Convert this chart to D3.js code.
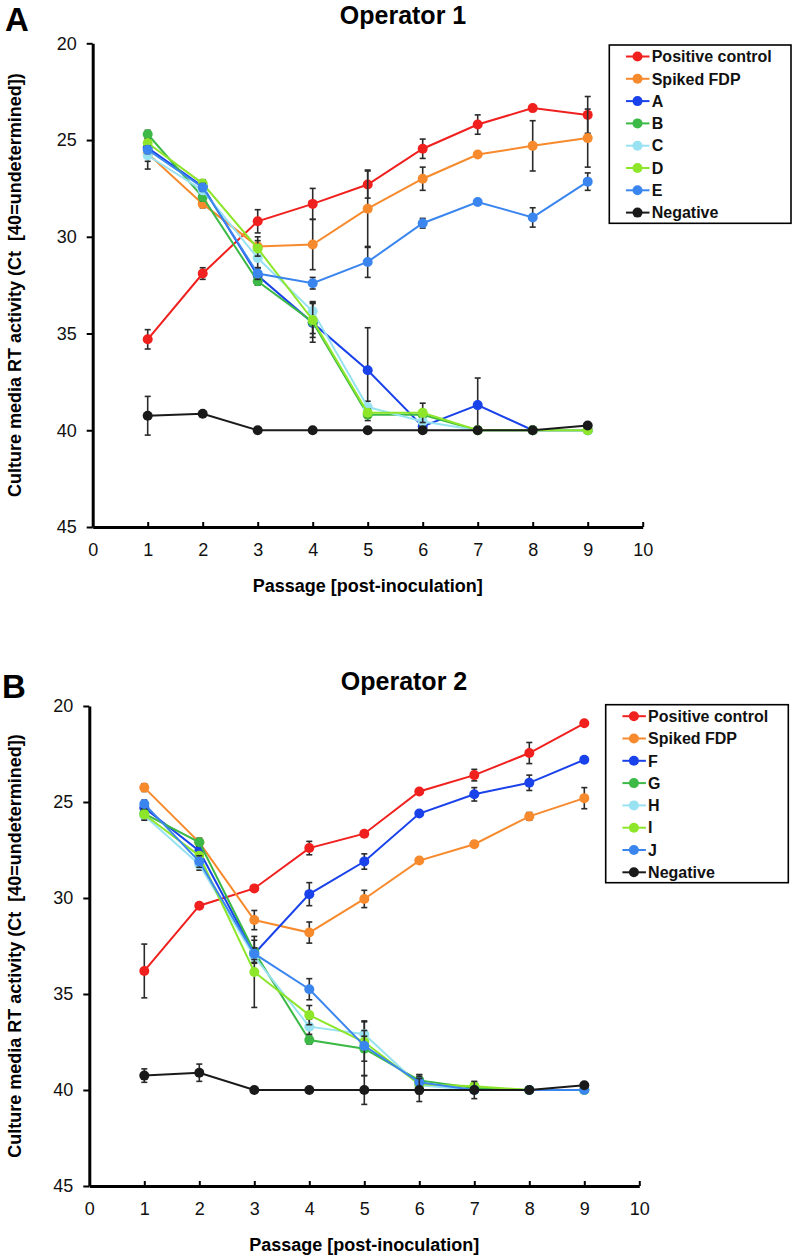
<!DOCTYPE html>
<html>
<head>
<meta charset="utf-8">
<script src="https://cdn.jsdelivr.net/npm/d3@7"></script>
<style>
  html, body { margin: 0; padding: 0; background: #ffffff; }
  svg { display: block; font-family: Arial, "Liberation Sans", sans-serif; }
</style>
</head>
<body>
<svg id="chart" width="792" height="1257"></svg>
<script>
// ---------- data ----------
const passages = [1, 2, 3, 4, 5, 6, 7, 8, 9];
const xTicks = [0, 1, 2, 3, 4, 5, 6, 7, 8, 9, 10];
const yTicks = [20, 25, 30, 35, 40, 45];

const seriesNamesA = ["Positive control", "Spiked FDP", "A", "B", "C", "D", "E", "Negative"];
const seriesNamesB = ["Positive control", "Spiked FDP", "F", "G", "H", "I", "J", "Negative"];
const seriesColors = ["#f0201e", "#f78a2d", "#1a42ea", "#3cb946", "#98e2f2", "#8de62a", "#3b86ee", "#1a1a1a"];

// Operator 1
const posA    = [35.3, 31.9, 29.2, 28.3, 27.3, 25.45, 24.2, 23.35, 23.7];
const posAErr = [0.5, 0.3, 0.6, 0.8, 0.7, 0.5, 0.5, 0.1, 0.95];
const spkA    = [25.7, 28.3, 30.5, 30.4, 28.55, 27.0, 25.75, 25.3, 24.9];
const spkAErr = [0.8, 0.2, 0.5, 1.3, 2.0, 0.6, 0.1, 1.3, 1.5];
const aA      = [25.4, 27.4, 32.0, 34.45, 36.9, 39.8, 38.7, 40, 40];
const aAErr   = [0.3, 0.2, 0.4, 1.0, 2.2, 0.3, 1.4, 0, 0];
const bA      = [24.7, 27.95, 32.3, 34.4, 39.2, 39.2, 40, 40, 40];
const bAErr   = [0.2, 0.2, 0.2, 0.6, 0.3, 0.2, 0, 0, 0];
const cA      = [25.8, 27.6, 31.1, 33.85, 38.8, 39.55, 40, 40, 40];
const cAErr   = [0.3, 0.2, 0.5, 0.5, 0.3, 0.2, 0, 0, 0];
const dA      = [25.15, 27.25, 30.6, 34.3, 39.1, 39.1, 40, 40, 40];
const dAErr   = [0.2, 0.2, 0.4, 0.9, 0.2, 0.5, 0, 0, 0];
const eA      = [25.5, 27.45, 31.9, 32.4, 31.3, 29.3, 28.2, 29.0, 27.15];
const eAErr   = [0.2, 0.2, 0.3, 0.3, 0.8, 0.25, 0.1, 0.5, 0.45];
const negA    = [39.25, 39.15, 40, 40, 40, 40, 40, 40, 39.75];
const negAErr = [1.0, 0.1, 0, 0, 0, 0, 0, 0, 0.1];

// Operator 2
const posB    = [33.8, 30.4, 29.5, 27.4, 26.65, 24.45, 23.6, 22.45, 20.9];
const posBErr = [1.4, 0.1, 0.1, 0.35, 0.1, 0.1, 0.3, 0.55, 0.1];
const spkB    = [24.25, 27.1, 31.15, 31.8, 30.05, 28.05, 27.2, 25.75, 24.8];
const spkBErr = [0.2, 0.2, 0.5, 0.55, 0.45, 0.1, 0.15, 0.2, 0.55];
const fB      = [25.3, 27.55, 32.9, 29.8, 28.1, 25.6, 24.6, 24.0, 22.8];
const fBErr   = [0.3, 0.2, 0.3, 0.6, 0.4, 0.1, 0.35, 0.4, 0.1];
const gB      = [25.6, 27.1, 32.8, 37.4, 37.85, 39.5, 39.9, 40, 40];
const gBErr   = [0.2, 0.2, 0.6, 0.2, 1.4, 0.3, 0.1, 0, 0];
const hB      = [25.7, 28.25, 33.05, 36.7, 37.1, 39.75, 40, 40, 40];
const hBErr   = [0.2, 0.3, 0.3, 0.4, 0.7, 0.2, 0, 0, 0];
const iB      = [25.65, 27.8, 33.85, 36.1, 37.5, 39.7, 39.8, 40, 40];
const iBErr   = [0.3, 0.2, 1.85, 0.5, 0.3, 0.5, 0.2, 0, 0];
const jB      = [25.1, 28.1, 32.9, 34.75, 37.7, 39.6, 40, 40, 40];
const jBErr   = [0.2, 0.3, 0.3, 0.55, 0.8, 0.3, 0, 0, 0];
const negB    = [39.25, 39.1, 40, 40, 40, 40, 40, 40, 39.75];
const negBErr = [0.35, 0.45, 0, 0, 0.75, 0.6, 0.45, 0, 0.1];

const yTitle = "Culture media RT activity (Ct  [40=undetermined])";
const xTitle = "Passage [post-inoculation]";

// ---------- drawing ----------
const svg = d3.select("#chart");

function drawPanel(cfg) {
  const g = svg.append("g");
  const x = d3.scaleLinear().domain([0, 10]).range([cfg.x0, cfg.x1]);
  const y = d3.scaleLinear().domain([20, 45]).range([cfg.y0, cfg.y1]);

  // axes
  const yAxis = g.append("g")
    .attr("transform", `translate(${cfg.x0},0)`)
    .call(d3.axisLeft(y).tickValues(yTicks).tickSizeInner(6).tickSizeOuter(0).tickPadding(10));
  const xAxis = g.append("g")
    .attr("transform", `translate(0,${cfg.y1})`)
    .call(d3.axisBottom(x).tickValues(xTicks).tickSizeInner(-5).tickSizeOuter(0).tickPadding(16).tickFormat(d3.format("d")));
  [yAxis, xAxis].forEach(ax => {
    ax.select(".domain").attr("stroke", "#000").attr("stroke-width", 3);
    ax.selectAll(".tick line").attr("stroke", "#000").attr("stroke-width", 2);
    ax.selectAll(".tick text").attr("fill", "#111").style("font-size", "18px")
      .style("font-family", 'Arial, "Liberation Sans", sans-serif');
  });
  xAxis.selectAll(".tick").filter(d => d === 0).select("line").remove();

  // series
  cfg.series.forEach((s, si) => {
    const pts = passages.map((p, i) => ({ p, v: s.values[i], e: s.errs[i] }));
    const color = seriesColors[si];
    // error bars
    const eb = g.append("g").attr("stroke", "#2a2a2a").attr("stroke-width", 1.6);
    pts.filter(d => d.e > 0).forEach(d => {
      const cx = x(d.p), yt = y(d.v - d.e), yb = y(d.v + d.e);
      eb.append("line").attr("x1", cx).attr("x2", cx).attr("y1", yt).attr("y2", yb);
      eb.append("line").attr("x1", cx - 3).attr("x2", cx + 3).attr("y1", yt).attr("y2", yt);
      eb.append("line").attr("x1", cx - 3).attr("x2", cx + 3).attr("y1", yb).attr("y2", yb);
    });
    // line
    g.append("path")
      .datum(pts)
      .attr("fill", "none")
      .attr("stroke", color)
      .attr("stroke-width", 2)
      .attr("d", d3.line().x(d => x(d.p)).y(d => y(d.v)));
    // markers
    g.append("g").selectAll("circle").data(pts).join("circle")
      .attr("cx", d => x(d.p)).attr("cy", d => y(d.v)).attr("r", 5)
      .attr("fill", color);
  });

  // titles
  g.append("text").attr("x", cfg.titleX).attr("y", cfg.titleY)
    .attr("text-anchor", "middle").style("font-size", "25px").style("font-weight", "bold")
    .text(cfg.title);
  g.append("text").attr("x", cfg.letterX).attr("y", cfg.letterY)
    .style("font-size", "33px").style("font-weight", "bold").text(cfg.letter);
  g.append("text")
    .attr("transform", `translate(21,${(cfg.y0 + cfg.y1) / 2}) rotate(-90)`)
    .attr("text-anchor", "middle").style("font-size", "18px").style("font-weight", "bold")
    .style("white-space", "pre")
    .text(yTitle);
  g.append("text").attr("x", (cfg.x0 + cfg.x1) / 2).attr("y", cfg.xTitleY)
    .attr("text-anchor", "middle").style("font-size", "18px").style("font-weight", "bold")
    .text(xTitle);

  // legend
  const lg = g.append("g");
  lg.append("rect").attr("x", cfg.legX).attr("y", cfg.legY)
    .attr("width", cfg.legW).attr("height", cfg.legH)
    .attr("fill", "#fff").attr("stroke", "#000").attr("stroke-width", 1.6);
  cfg.names.forEach((name, i) => {
    const cy = cfg.legY + 11.5 + i * 22.3;
    const lx = cfg.legX + 16.7;
    lg.append("line").attr("x1", lx).attr("x2", lx + 23.5).attr("y1", cy).attr("y2", cy)
      .attr("stroke", seriesColors[i]).attr("stroke-width", 2);
    lg.append("circle").attr("cx", lx + 11.5).attr("cy", cy).attr("r", 5).attr("fill", seriesColors[i]);
    lg.append("text").attr("x", cfg.legX + 42.4).attr("y", cy).attr("dy", "0.36em")
      .style("font-size", "16px").style("font-weight", "bold").attr("fill", "#111").text(name);
  });
}

drawPanel({
  x0: 92.7, x1: 642.7, y0: 43.3, y1: 527,
  title: "Operator 1", titleX: 403, titleY: 24,
  letter: "A", letterX: 5, letterY: 31,
  xTitleY: 592,
  legX: 609.3, legY: 45, legW: 181.7, legH: 178.3,
  names: seriesNamesA,
  series: [
    { values: posA, errs: posAErr },
    { values: spkA, errs: spkAErr },
    { values: aA, errs: aAErr },
    { values: bA, errs: bAErr },
    { values: cA, errs: cAErr },
    { values: dA, errs: dAErr },
    { values: eA, errs: eAErr },
    { values: negA, errs: negAErr }
  ]
});

drawPanel({
  x0: 89.3, x1: 639.3, y0: 706, y1: 1186,
  title: "Operator 2", titleX: 404, titleY: 690,
  letter: "B", letterX: 2, letterY: 698,
  xTitleY: 1251,
  legX: 605.7, legY: 704.7, legW: 182.6, legH: 178,
  names: seriesNamesB,
  series: [
    { values: posB, errs: posBErr },
    { values: spkB, errs: spkBErr },
    { values: fB, errs: fBErr },
    { values: gB, errs: gBErr },
    { values: hB, errs: hBErr },
    { values: iB, errs: iBErr },
    { values: jB, errs: jBErr },
    { values: negB, errs: negBErr }
  ]
});
</script>
</body>
</html>
